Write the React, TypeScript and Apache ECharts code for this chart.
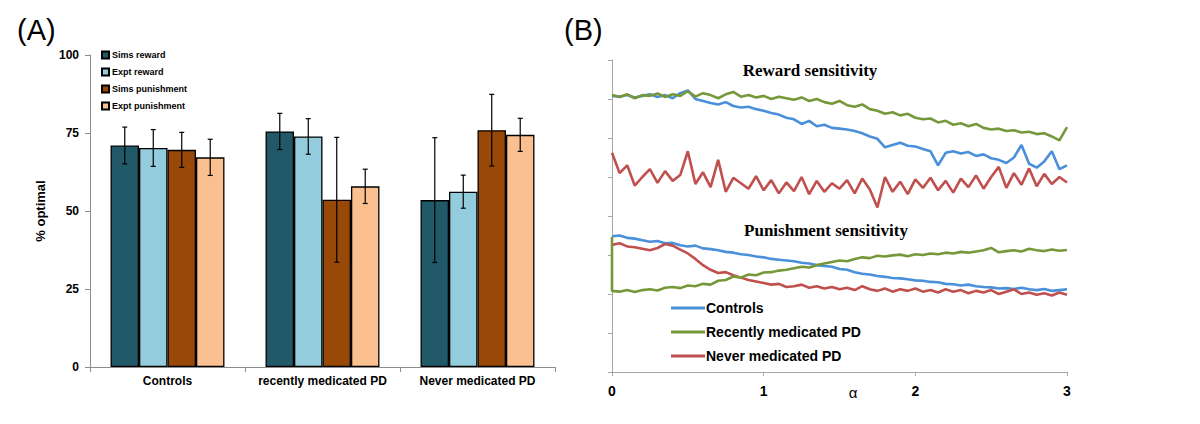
import React, { useEffect, useRef } from "react";
import * as echarts from "echarts";

// ---------- Panel A data ----------
const CATEGORIES = ["Controls", "recently medicated PD", "Never medicated PD"];
const BAR_NAMES = ["Sims reward", "Expt reward", "Sims punishment", "Expt punishment"];
const SIMS_REWARD = [71.0, 75.5, 53.5];
const SIMS_REWARD_ERR = [5.9, 5.8, 20.0];
const EXPT_REWARD = [70.2, 73.9, 56.2];
const EXPT_REWARD_ERR = [5.9, 5.7, 5.3];
const SIMS_PUNISH = [69.6, 53.6, 75.9];
const SIMS_PUNISH_ERR = [5.6, 20.0, 11.5];
const EXPT_PUNISH = [67.2, 57.9, 74.4];
const EXPT_PUNISH_ERR = [5.8, 5.5, 5.3];
const Y_TICKS_A = [0, 25, 50, 75, 100];

// ---------- Panel B data ----------
const LINE_NAMES = ["Controls", "Recently medicated PD", "Never medicated PD"];
const ALPHA = [
  0, 0.05, 0.1, 0.15, 0.2, 0.25, 0.3, 0.35, 0.4, 0.45, 0.5, 0.55, 0.6, 0.65, 0.7, 0.75,
  0.8, 0.85, 0.9, 0.95, 1.0, 1.05, 1.1, 1.15, 1.2, 1.25, 1.3, 1.35, 1.4, 1.45, 1.5, 1.55,
  1.6, 1.65, 1.7, 1.75, 1.8, 1.85, 1.9, 1.95, 2.0, 2.05, 2.1, 2.15, 2.2, 2.25, 2.3, 2.35,
  2.4, 2.45, 2.5, 2.55, 2.6, 2.65, 2.7, 2.75, 2.8, 2.85, 2.9, 2.95, 3.0,
];
const X_TICKS_B = [0, 1, 2, 3];

const REWARD_CONTROLS = [
  7.08, 7.06, 7.1, 7.04, 7.08, 7.12, 7.05, 7.1, 7.02, 7.15, 7.22, 7.0, 6.95, 6.9, 6.86, 6.92,
  6.82, 6.78, 6.8, 6.74, 6.7, 6.64, 6.6, 6.52, 6.48, 6.36, 6.44, 6.3, 6.34, 6.26, 6.24, 6.22,
  6.18, 6.12, 6.04, 5.98, 5.76, 5.82, 5.88, 5.8, 5.78, 5.72, 5.66, 5.3, 5.62, 5.66, 5.6, 5.64,
  5.54, 5.58, 5.48, 5.44, 5.36, 5.5, 5.82, 5.34, 5.24, 5.4, 5.66, 5.2, 5.3,
];
const REWARD_RECENT = [
  7.1, 7.05, 7.12, 7.02, 7.1, 7.08, 7.14, 7.05, 7.12, 7.08, 7.2, 7.06, 7.15, 7.1, 7.02, 7.12,
  7.18, 7.06, 7.1, 7.04, 7.08, 7.0, 7.06, 7.02, 6.98, 7.04, 6.95, 7.0, 6.92, 6.88, 6.95, 6.84,
  6.8, 6.86, 6.74, 6.7, 6.62, 6.66, 6.58, 6.62, 6.52, 6.48, 6.5, 6.4, 6.44, 6.34, 6.38, 6.3,
  6.36, 6.26, 6.22, 6.24, 6.18, 6.2, 6.14, 6.16, 6.1, 6.12, 6.04, 5.94, 6.28,
];
const REWARD_NEVER = [
  5.62, 5.1, 5.3, 4.78, 5.0, 5.2, 4.85, 5.15, 4.9, 5.05, 5.66, 4.82, 5.12, 4.74, 5.44, 4.62,
  4.98, 4.84, 4.7, 5.02, 4.66, 4.92, 4.58, 4.86, 4.64, 5.0, 4.56, 4.9, 4.62, 4.84, 4.7, 4.92,
  4.58, 4.96, 4.68, 4.22, 5.0, 4.62, 4.88, 4.56, 4.94, 4.72, 4.98, 4.66, 4.9, 4.6, 4.96, 4.74,
  5.04, 4.7, 5.0, 5.26, 4.72, 5.1, 4.8, 5.22, 4.76, 5.08, 4.82, 5.0, 4.86,
];
const PUNISH_CONTROLS = [
  3.48, 3.5, 3.44, 3.42, 3.38, 3.34, 3.36, 3.3, 3.31, 3.25, 3.22, 3.24, 3.17, 3.15, 3.12, 3.08,
  3.06, 3.02, 3.0, 2.96, 2.94, 2.9, 2.88, 2.86, 2.84, 2.8, 2.78, 2.74, 2.72, 2.7, 2.64, 2.62,
  2.56, 2.52, 2.5, 2.46, 2.44, 2.41, 2.4, 2.38, 2.35, 2.34, 2.31, 2.3, 2.26, 2.25, 2.22, 2.24,
  2.2, 2.18, 2.17, 2.14, 2.15, 2.13, 2.16, 2.12, 2.1, 2.13, 2.08, 2.1, 2.12,
];
const PUNISH_RECENT_START = 3.46;
const PUNISH_RECENT = [
  2.08, 2.06, 2.1, 2.05, 2.1, 2.12, 2.09, 2.16, 2.18, 2.15, 2.22, 2.2, 2.26, 2.24, 2.34, 2.36,
  2.45, 2.42, 2.5, 2.48, 2.55, 2.56, 2.6, 2.62, 2.66, 2.7, 2.68, 2.74, 2.78, 2.82, 2.86, 2.84,
  2.9, 2.94, 2.92, 2.98, 2.96, 2.99, 3.01, 2.97, 3.02, 3.0, 3.04, 3.02, 3.06, 3.04, 3.08, 3.06,
  3.09, 3.12, 3.18, 3.07, 3.1, 3.12, 3.09, 3.16, 3.12, 3.1, 3.14, 3.11, 3.13,
];
const PUNISH_NEVER = [
  3.26, 3.3, 3.22, 3.2, 3.16, 3.12, 3.18, 3.28, 3.24, 3.14, 3.04, 2.9, 2.74, 2.62, 2.54, 2.56,
  2.48, 2.42, 2.36, 2.32, 2.28, 2.24, 2.26, 2.18, 2.2, 2.24, 2.16, 2.2, 2.14, 2.18, 2.12, 2.16,
  2.1, 2.2, 2.12, 2.08, 2.14, 2.06, 2.12, 2.08, 2.14, 2.06, 2.1, 2.04, 2.12, 2.06, 2.1, 2.02,
  2.08, 2.04, 2.1, 2.0, 2.06, 2.12, 2.0, 2.04, 1.98, 2.02, 1.96, 2.04, 1.98,
];

const BAR_COLORS = ["#215968", "#93CDDD", "#984807", "#FAC090"];
const LINE_COLORS = ["#4A8FD9", "#77983A", "#C0504D"];
const CAT_GAP = 0.265;

export default function App() {
  const ref = useRef<HTMLDivElement>(null);
  useEffect(() => {
    if (!ref.current) return;
    const chart = echarts.init(ref.current, undefined, { renderer: "svg" });
    const barVals = [SIMS_REWARD, EXPT_REWARD, SIMS_PUNISH, EXPT_PUNISH];
    const barErrs = [SIMS_REWARD_ERR, EXPT_REWARD_ERR, SIMS_PUNISH_ERR, EXPT_PUNISH_ERR];
    const sans = 'Arial, "Liberation Sans", sans-serif';
    const serif = '"Liberation Serif", "Times New Roman", serif';

    const barSeries = barVals.map((vals, k) => ({
      type: "bar",
      name: BAR_NAMES[k],
      xAxisIndex: 0,
      yAxisIndex: 0,
      data: vals,
      barGap: "0%",
      barCategoryGap: CAT_GAP * 100 + "%",
      itemStyle: { color: BAR_COLORS[k], borderColor: "#000", borderWidth: 1.3 },
    }));

    const errSeries = barVals.map((vals, k) => ({
      type: "custom",
      name: "err" + k,
      xAxisIndex: 0,
      yAxisIndex: 0,
      z: 10,
      data: vals.map((v, i) => [i, v, barErrs[k][i]]),
      renderItem: (params: any, api: any) => {
        const c = api.value(0);
        const v = api.value(1);
        const e = api.value(2);
        const band = api.size([1, 0])[0];
        const bw = (band * (1 - CAT_GAP)) / 4;
        const off = (k - 1.5) * bw;
        const top = api.coord([c, v + e]);
        const bot = api.coord([c, v - e]);
        const x = top[0] + off;
        const st = { stroke: "#000", lineWidth: 1.2 };
        return {
          type: "group",
          children: [
            { type: "line", shape: { x1: x, y1: top[1], x2: x, y2: bot[1] }, style: st },
            { type: "line", shape: { x1: x - 2.5, y1: top[1], x2: x + 2.5, y2: top[1] }, style: st },
            { type: "line", shape: { x1: x - 2.5, y1: bot[1], x2: x + 2.5, y2: bot[1] }, style: st },
          ],
        };
      },
    }));

    const lineDefs = [
      { name: LINE_NAMES[0], vals: REWARD_CONTROLS, c: 0 },
      { name: LINE_NAMES[1], vals: REWARD_RECENT, c: 1 },
      { name: LINE_NAMES[2], vals: REWARD_NEVER, c: 2 },
      { name: LINE_NAMES[0], vals: PUNISH_CONTROLS, c: 0 },
      { name: LINE_NAMES[2], vals: PUNISH_NEVER, c: 2 },
      { name: LINE_NAMES[1], vals: PUNISH_RECENT, c: 1, start: PUNISH_RECENT_START },
    ];
    const lineSeries = lineDefs.map((d) => {
      const pts: any[] = d.vals.map((v, i) => [ALPHA[i], v]);
      if (d.start !== undefined) pts.unshift([ALPHA[0], d.start]);
      return {
        type: "line",
        name: d.name,
        xAxisIndex: 1,
        yAxisIndex: 1,
        data: pts,
        symbol: "none",
        showSymbol: false,
        color: LINE_COLORS[d.c],
        lineStyle: { width: 2.6, color: LINE_COLORS[d.c] },
      };
    });

    chart.setOption({
      animation: false,
      backgroundColor: "#fff",
      grid: [
        { left: 90, top: 55, width: 465, height: 312 },
        { left: 612, top: 60, width: 455, height: 312 },
      ],
      xAxis: [
        {
          type: "category",
          gridIndex: 0,
          data: CATEGORIES,
          axisLine: { lineStyle: { color: "#8c8c8c", width: 1 } },
          axisTick: { show: true, alignWithLabel: false, length: 5, lineStyle: { color: "#8c8c8c" } },
          axisLabel: { interval: 0, hideOverlap: false, color: "#000", fontFamily: sans, fontWeight: "bold", fontSize: 12, margin: 8 },
          splitLine: { show: false },
        },
        {
          type: "value",
          gridIndex: 1,
          min: X_TICKS_B[0],
          max: X_TICKS_B[X_TICKS_B.length - 1],
          interval: 1,
          axisLine: { show: true, lineStyle: { color: "#a6a6a6", width: 1 } },
          axisTick: { show: true, length: 4, lineStyle: { color: "#a6a6a6" } },
          axisLabel: { color: "#000", fontFamily: sans, fontWeight: "bold", fontSize: 14, margin: 12 },
          splitLine: { show: false },
        },
      ],
      yAxis: [
        {
          type: "value",
          gridIndex: 0,
          min: Y_TICKS_A[0],
          max: Y_TICKS_A[Y_TICKS_A.length - 1],
          interval: 25,
          name: "% optimal",
          nameLocation: "middle",
          nameGap: 43,
          nameTextStyle: { color: "#000", fontFamily: sans, fontWeight: "bold", fontSize: 13 },
          axisLine: { show: true, lineStyle: { color: "#8c8c8c", width: 1 } },
          axisTick: { show: true, length: 5, lineStyle: { color: "#8c8c8c" } },
          axisLabel: { color: "#000", fontFamily: sans, fontWeight: "bold", fontSize: 12, margin: 11 },
          splitLine: { show: false },
        },
        {
          type: "value",
          gridIndex: 1,
          min: 0,
          max: 8,
          interval: 1,
          axisLine: { show: true, lineStyle: { color: "#a6a6a6", width: 1 } },
          axisTick: { show: true, length: 4, lineStyle: { color: "#a6a6a6" } },
          axisLabel: { show: false },
          splitLine: { show: false },
        },
      ],
      legend: [
        {
          data: BAR_NAMES,
          orient: "vertical",
          left: 101,
          top: 50,
          padding: 0,
          itemWidth: 7,
          itemHeight: 7,
          itemGap: 7,
          icon: "rect",
          selectedMode: false,
          textStyle: { color: "#000", fontFamily: sans, fontWeight: "bold", fontSize: 9, lineHeight: 10, padding: [0, 0, 0, -2] },
        },
        {
          data: LINE_NAMES,
          orient: "vertical",
          left: 671,
          top: 300,
          padding: 0,
          itemWidth: 34,
          itemHeight: 3,
          itemGap: 8,
          icon: "rect",
          selectedMode: false,
          textStyle: { color: "#000", fontFamily: sans, fontWeight: "bold", fontSize: 14, lineHeight: 16, padding: [0, 0, 0, -4] },
        },
      ],
      graphic: [
        { type: "text", x: 17, y: 30, style: { text: "(A)", fill: "#000", font: "29px " + sans, verticalAlign: "middle" } },
        { type: "text", x: 564, y: 30, style: { text: "(B)", fill: "#000", font: "29px " + sans, verticalAlign: "middle" } },
        { type: "text", x: 810, y: 70, style: { text: "Reward sensitivity", fill: "#000", font: "bold 17px " + serif, align: "center", verticalAlign: "middle" } },
        { type: "text", x: 826, y: 230, style: { text: "Punishment sensitivity", fill: "#000", font: "bold 17px " + serif, align: "center", verticalAlign: "middle" } },
        { type: "text", x: 853, y: 392, style: { text: "α", fill: "#000", font: "15px " + sans, align: "center", verticalAlign: "middle" } },
      ],
      series: [...barSeries, ...errSeries, ...lineSeries],
    });
    return () => chart.dispose();
  }, []);
  return (
    <div
      ref={ref}
      style={{ position: "fixed", left: 0, top: 0, width: 1200, height: 424, background: "#fff" }}
    />
  );
}
